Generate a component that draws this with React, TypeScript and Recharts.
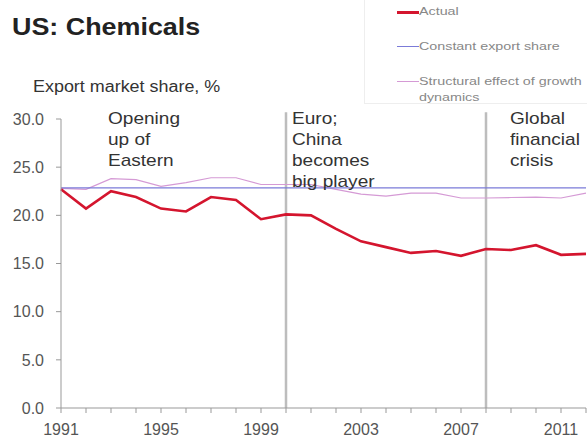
import { CartesianGrid, Line, LineChart, ReferenceLine, XAxis, YAxis } from "recharts";

const years = [
  1991, 1992, 1993, 1994, 1995, 1996, 1997, 1998, 1999, 2000, 2001,
  2002, 2003, 2004, 2005, 2006, 2007, 2008, 2009, 2010, 2011, 2012,
];
const actual = [
  22.7, 20.7, 22.5, 21.9, 20.7, 20.4, 21.9, 21.6, 19.6, 20.1, 20.0,
  18.6, 17.3, 16.7, 16.1, 16.3, 15.8, 16.5, 16.4, 16.9, 15.9, 16.0,
];
const constantShare = [
  22.85, 22.85, 22.85, 22.85, 22.85, 22.85, 22.85, 22.85, 22.85, 22.85, 22.85,
  22.85, 22.85, 22.85, 22.85, 22.85, 22.85, 22.85, 22.85, 22.85, 22.85, 22.85,
];
const structural = [
  22.8, 22.7, 23.8, 23.7, 23.0, 23.4, 23.9, 23.9, 23.2, 23.2, 23.2,
  22.7, 22.2, 22.0, 22.3, 22.3, 21.8, 21.8, 21.85, 21.9, 21.8, 22.3,
];
const yTicks = [0, 5, 10, 15, 20, 25, 30];
const labelYears = [1991, 1995, 1999, 2003, 2007, 2011];
const events = [
  { year: 2000, left: 292, lines: ["Euro;", "China", "becomes", "big player"] },
  { year: 2008, left: 510, lines: ["Global", "financial", "crisis"] },
];
const openingLines = ["Opening", "up of", "Eastern"];

const data = years.map((year, i) => ({
  year,
  actual: actual[i],
  constantShare: constantShare[i],
  structural: structural[i],
}));

const FONT = "'Liberation Sans', Arial, sans-serif";

const legendItems = [
  { label: "Actual", color: "#d4152e", width: 2.5, top: 4 },
  { label: "Constant export share", color: "#7b7bd8", width: 1.2, top: 39 },
  { label: "Structural effect of growth", color: "#d59ad5", width: 1.2, top: 74 },
];

const stretch = {
  display: "inline-block",
  transform: "scaleX(1.12)",
  transformOrigin: "left center",
  whiteSpace: "nowrap" as const,
};

export default function App() {
  return (
    <div
      style={{
        position: "absolute",
        left: 0,
        top: 0,
        width: 587,
        height: 442,
        overflow: "hidden",
        background: "#fff",
        fontFamily: FONT,
      }}
    >
      <div style={{ position: "absolute", left: 12, top: 13, fontSize: 24, fontWeight: "bold", color: "#222" }}>
        <span style={stretch}>US: Chemicals</span>
      </div>
      <div style={{ position: "absolute", left: 33, top: 78, fontSize: 16, color: "#333" }}>
        <span style={stretch}>Export market share, %</span>
      </div>

      {/* legend box */}
      <div
        style={{
          position: "absolute",
          left: 364,
          top: -2,
          width: 240,
          height: 104,
          border: "1px solid #eeeeee",
          background: "#fff",
        }}
      >
        {legendItems.map((item) => (
          <div key={item.label} style={{ position: "absolute", left: 32, top: item.top, height: 16 }}>
            <div
              style={{
                position: "absolute",
                left: 0,
                top: 8,
                width: 22,
                height: item.width,
                background: item.color,
              }}
            />
            <div style={{ position: "absolute", left: 22, top: 0, fontSize: 11, lineHeight: "16px", color: "#888" }}>
              <span style={{ ...stretch, transform: "scaleX(1.3)" }}>{item.label}</span>
            </div>
          </div>
        ))}
        <div style={{ position: "absolute", left: 54, top: 90, fontSize: 11, lineHeight: "16px", color: "#888" }}>
          <span style={{ ...stretch, transform: "scaleX(1.3)" }}>dynamics</span>
        </div>
      </div>

      <div style={{ position: "absolute", left: 0, top: 0 }}>
        <LineChart
          width={587}
          height={442}
          data={data}
          margin={{ top: 119, right: 1, bottom: 0, left: 0 }}
        >
          <CartesianGrid stroke="none" />
          <XAxis
            dataKey="year"
            height={34}
            interval={0}
            tickSize={5}
            tickMargin={11}
            stroke="#999"
            tick={{ fill: "#555", fontSize: 16, fontFamily: FONT }}
            tickFormatter={(v: number) => (labelYears.includes(v) ? String(v) : "")}
          />
          <YAxis
            width={61}
            domain={[0, 30]}
            ticks={yTicks}
            tickSize={5}
            tickMargin={12}
            stroke="#999"
            tick={{ fill: "#555", fontSize: 16, fontFamily: FONT }}
            tickFormatter={(v: number) => v.toFixed(1)}
          />
          {events.map((e) => (
            <ReferenceLine
              key={e.year}
              segment={[
                { x: e.year, y: 0 },
                { x: e.year, y: 30.7 },
              ]}
              ifOverflow="visible"
              stroke="#bdbdbd"
              strokeWidth={2.5}
            />
          ))}
          <Line
            dataKey="structural"
            stroke="#d59ad5"
            strokeWidth={1.2}
            dot={false}
            isAnimationActive={false}
          />
          <Line
            dataKey="constantShare"
            stroke="#7b7bd8"
            strokeWidth={1.4}
            dot={false}
            isAnimationActive={false}
          />
          <Line
            dataKey="actual"
            stroke="#d4152e"
            strokeWidth={2.6}
            dot={false}
            isAnimationActive={false}
          />
        </LineChart>
      </div>

      <div style={{ position: "absolute", left: 108, top: 108, fontSize: 17, lineHeight: "21px", color: "#333" }}>
        {openingLines.map((t) => (
          <div key={t}>
            <span style={stretch}>{t}</span>
          </div>
        ))}
      </div>
      {events.map((e) => (
        <div
          key={e.year}
          style={{ position: "absolute", left: e.left, top: 108, fontSize: 17, lineHeight: "21px", color: "#333" }}
        >
          {e.lines.map((t) => (
            <div key={t}>
              <span style={stretch}>{t}</span>
            </div>
          ))}
        </div>
      ))}
    </div>
  );
}
